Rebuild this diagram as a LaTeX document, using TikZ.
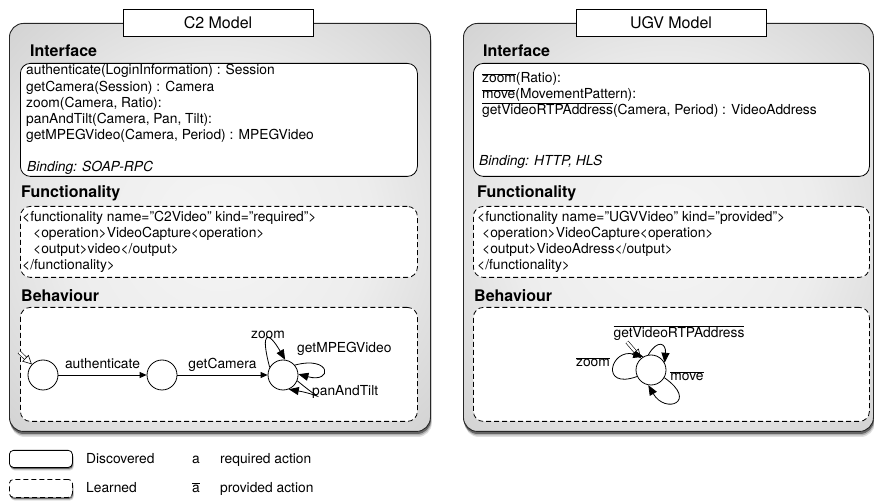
\documentclass[tikz,border=0pt]{standalone}
\usepackage{fontspec}
\setmainfont{TeX Gyre Heros}
\usepackage{tikz}
\usetikzlibrary{positioning}
\usetikzlibrary{arrows.meta}
\newcommand{\coact}[1]{$\overline{\mbox{#1}}$}
\pgfdeclareradialshading{modelshade}{\pgfpoint{0bp}{0bp}}{color(0bp)=(black!4); color(18bp)=(black!7); color(50bp)=(black!26); color(72bp)=(black!34)}

\begin{document}
\begin{tikzpicture}[x=1pt,y=1pt,
    body/.style={font=\fontsize{13.8}{16}\selectfont},
    op/.style={body, anchor=base west, inner sep=0},
    head/.style={font=\fontsize{16}{18}\selectfont\bfseries, anchor=base west, inner sep=0},
    modelbox/.style={draw=black!85, line width=0.9pt, rounded corners=14pt, shading=modelshade,
        anchor=north west, minimum height=408pt, inner sep=0},
    shadowfill/.style={fill=black!#1, draw=none},
    titlebox/.style={draw, fill=white, line width=0.8pt, minimum width=190pt, minimum height=27pt,
        font=\fontsize{16}{18}\selectfont},
    discbox/.style={draw, fill=white, line width=0.8pt, rounded corners=10pt, anchor=north west, inner sep=0},
    learnbox/.style={discbox, dash pattern=on 5pt off 3pt},
    state/.style={circle, draw, fill=white, line width=0.8pt, minimum size=30pt, inner sep=0},
    trans/.style={line width=0.8pt, -{Triangle[length=7pt,width=6pt]}},
    looptr/.style={line width=0.8pt, -{Triangle[length=10pt,width=8pt]}},
    initarr/.style={line width=0.6pt, double=white, double distance=2.4pt, -{Triangle[open,length=9pt,width=9pt]}},
    lbl/.style={body, inner sep=0}]
    \useasboundingbox (0,0) rectangle (874,500);

    % shadows
    \foreach \c/\d in {12/6, 30/4.5, 60/3} {
        \fill[shadowfill=\c, rounded corners=14pt] (9+0.3*\d,477-\d) rectangle (430+0.3*\d,69-\d);
        \fill[shadowfill=\c, rounded corners=14pt] (463+0.3*\d,477-\d) rectangle (873+0.3*\d,69-\d);
        \fill[shadowfill=\c, rounded corners=4pt] (9+0.3*\d,50-0.6*\d) rectangle (72+0.3*\d,33-0.6*\d);
        \fill[shadowfill=\c, rounded corners=4pt] (9+0.3*\d,21-0.6*\d) rectangle (72+0.3*\d,3-0.6*\d);
    }

    % C2 model
    \node[modelbox, minimum width=421pt] (c2) at (9,477) {};
    \node[titlebox] (c2title) at (218,477.5) {C2 Model};
    \node[head] (c2ifh) at (30,443) {Interface};
    \node[discbox, minimum width=397pt, minimum height=113pt] (c2if) at (20,437) {};
    \foreach \ln [count=\i] in {authenticate(LoginInformation) : Session, getCamera(Session) : Camera,
        {zoom(Camera, Ratio):}, {panAndTilt(Camera, Pan, Tilt):}, {getMPEGVideo(Camera, Period) : MPEGVideo}}
        \node[op] (c2op\i) at (26,441.25-16.25*\i) {\ln};
    \node[op, font=\fontsize{13.8}{16}\selectfont\itshape] (c2bind) at (27,328) {Binding: SOAP-RPC};

    \node[head] (c2fnh) at (21,302) {Functionality};
    \node[learnbox, minimum width=397pt, minimum height=71pt] (c2fn) at (20,294) {};
    \node[op] (c2fn1) at (22,278) {<functionality name="C2Video" kind="required">};
    \node[op] (c2fn2) at (33,262) {<operation>VideoCapture<operation>};
    \node[op] (c2fn3) at (33,246) {<output>video</output>};
    \node[op] (c2fn4) at (22,230) {</functionality>};

    \node[head] (c2bhh) at (21,198) {Behaviour};
    \node[learnbox, minimum width=397pt, minimum height=114pt] (c2bh) at (20,193) {};
    \node[state] (s0) at (43,125) {};
    \node[state] (s1) at (162,125) {};
    \node[state] (s2) at (283,125) {};
    \coordinate (s0in) at (19,148);
    \draw[initarr] (s0in) -- (s0);
    \draw[trans] (s0) -- node[lbl, above=6pt, text depth=0pt] (authlbl) {authenticate} (s1);
    \draw[trans] (s1) -- node[lbl, above=6pt, text depth=0pt] (camlbl) {getCamera} (s2);
    \draw[looptr] (s2.150) .. controls +(105:38) and +(120:34) .. (s2.82);
    \draw[looptr] (s2.40) .. controls +(15:38) and +(-15:36) .. (s2.3);
    \draw[looptr] (s2.-22) .. controls +(-40:36) and +(-10:34) .. (s2.-68);
    \node[lbl, anchor=base] (zoomlbl) at (268,161) {zoom};
    \node[lbl, anchor=base west] (mpeglbl) at (297,147) {getMPEGVideo};
    \node[lbl, anchor=base west] (panlbl) at (312,104) {panAndTilt};

    % UGV model
    \node[modelbox, minimum width=410pt] (ugv) at (463,477) {};
    \node[titlebox] (ugvtitle) at (671,477.5) {UGV Model};
    \node[head] (ugvifh) at (483,443) {Interface};
    \node[discbox, minimum width=396pt, minimum height=113pt] (ugvif) at (473,437) {};
    \node[op] (ugvop1) at (482,417) {\coact{zoom}(Ratio):};
    \node[op] (ugvop2) at (482,401) {\coact{move}(MovementPattern):};
    \node[op] (ugvop3) at (482,385) {\coact{getVideoRTPAddress}(Camera, Period) : VideoAddress};
    \node[op, font=\fontsize{13.8}{16}\selectfont\itshape] (ugvbind) at (479,334) {Binding: HTTP, HLS};

    \node[head] (ugvfnh) at (477,302) {Functionality};
    \node[learnbox, minimum width=396pt, minimum height=71pt] (ugvfn) at (473,294) {};
    \node[op] (ugvfn1) at (477,278) {<functionality name="UGVVideo" kind="provided">};
    \node[op] (ugvfn2) at (482,262) {<operation>VideoCapture<operation>};
    \node[op] (ugvfn3) at (482,246) {<output>VideoAdress</output>};
    \node[op] (ugvfn4) at (477,230) {</functionality>};

    \node[head] (ugvbhh) at (474,198) {Behaviour};
    \node[learnbox, minimum width=396pt, minimum height=114pt] (ugvbh) at (473,193) {};
    \node[state] (u0) at (651,130) {};
    \coordinate (u0in) at (627,158);
    \draw[looptr] (u0.205) .. controls +(200:40) and +(165:34) .. (u0.120);
    \draw[looptr] (u0.100) .. controls +(60:18) and +(85:20) .. (u0.28);
    \draw[looptr] (u0.-30) .. controls +(-35:42) and +(-60:34) .. (u0.-100);
    \draw[initarr] (u0in) -- (u0);
    \node[lbl, anchor=base] (rtplbl) at (679,162) {\coact{getVideoRTPAddress}};
    \node[lbl, anchor=base] (uzoomlbl) at (593,133) {\coact{zoom}};
    \node[lbl, anchor=base] (movelbl) at (687,119) {\coact{move}};

    % legend
    \node[discbox, rounded corners=4pt, minimum width=63pt, minimum height=17pt] (legdisc) at (9,50) {};
    \node[learnbox, rounded corners=4pt, minimum width=63pt, minimum height=18pt] (leglearn) at (9,21) {};
    \node[op] (discttl) at (86,37) {Discovered};
    \node[op] (learnttl) at (86,8) {Learned};
    \node[lbl, anchor=base] (reqsym) at (196,37) {a};
    \node[lbl, anchor=base] (provsym) at (196,8) {\coact{a}};
    \node[op] (reqttl) at (220,37) {required action};
    \node[op] (provttl) at (220,8) {provided action};
\end{tikzpicture}
\end{document}
